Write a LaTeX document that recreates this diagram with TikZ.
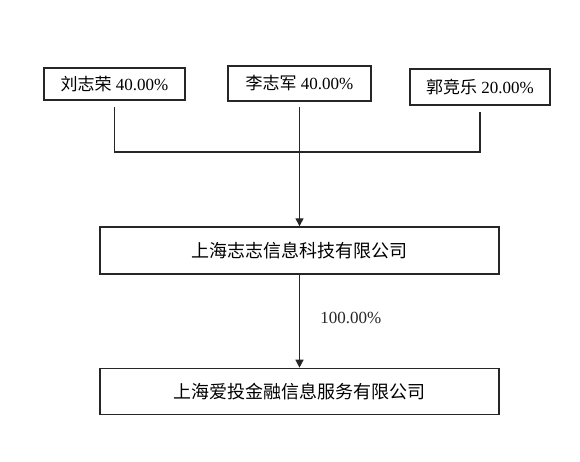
\documentclass[tikz,border=0pt]{standalone}
\usepackage{fontspec}
\setmainfont{Liberation Serif}
\newfontfamily\cjk{Noto Sans CJK SC}
\usetikzlibrary{arrows.meta,positioning}
\newcommand{\zh}[1]{{\cjk #1}}

\begin{document}
\begin{tikzpicture}[x=1pt,y=-1pt,
  box/.style={draw=black!85,line width=1.4pt,minimum height=33pt,inner sep=0pt,font=\fontsize{17}{20}\selectfont},
  societe/.style={box,minimum width=399pt,minimum height=47pt,font=\fontsize{18}{21}\selectfont},
  lien/.style={line width=1.3pt,black!85},
  fleche/.style={lien,-{Triangle[length=8pt,width=8pt]}}]
  \useasboundingbox (0,0) rectangle (580,461);
  % actionnaires
  \node[box,minimum width=141pt,minimum height=32pt] (liu) at (114.5,84) {\zh{刘志荣} 40.00\%};
  \node[box,minimum width=143pt,minimum height=35pt] (li) at (299.5,83.5) {\zh{李志军} 40.00\%};
  \node[box,minimum width=140pt,minimum height=36pt] (guo) at (480,87) {\zh{郭竞乐} 20.00\%};
  % societes
  \node[societe] (zhizhi) at (299.5,250.5) {\zh{上海志志信息科技有限公司}};
  \node[societe,minimum height=46pt,below=93pt of zhizhi] (aitou) {\zh{上海爱投金融信息服务有限公司}};
  \coordinate (jonction) at (0,152);
  \draw[lien,shorten <=6pt,shorten >=6pt] (liu.south) -- (liu.south |- jonction) -- (guo.south |- jonction) -- (guo.south);
  \draw[fleche,shorten <=5pt] (li.south) -- (zhizhi.north);
  \draw[fleche] (zhizhi.south) -- (aitou.north) node[pos=0.46,right=17pt,font=\fontsize{17}{20}\selectfont] {100.00\%};
\end{tikzpicture}
\end{document}
